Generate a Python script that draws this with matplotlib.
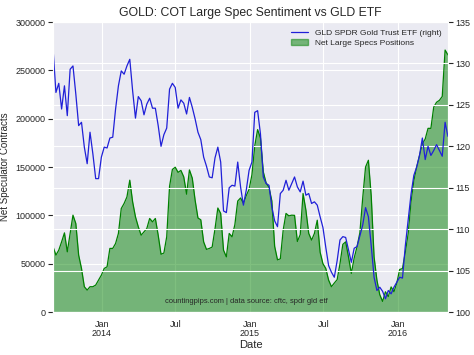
import pandas as pd
import matplotlib
matplotlib.use("Agg")
import matplotlib.pyplot as plt
import matplotlib.patches as mpatches
import seaborn as sns

# weekly COT report dates (Tuesdays)
dates = pd.date_range("2013-09-03", periods=140, freq="7D")

# GLD SPDR Gold Trust ETF price (right axis)
gld = [131.7, 126.5, 127.6, 124.5, 127.3, 123.7, 129.3, 129.7, 126.3, 122.5,
       122.9, 119.9, 117.9, 121.7, 119.1, 116.1, 116.1, 118.7, 119.9, 119.8,
       121.0, 121.1, 124.5, 127.3, 129.1, 128.7, 129.7, 130.5, 126.7, 123.4,
       126.0, 125.5, 123.8, 125.1, 125.8, 124.6, 124.6, 122.5, 120.0, 121.4,
       122.2, 126.9, 127.6, 127.1, 124.6, 125.6, 125.2, 123.9, 125.9, 124.7,
       123.3, 121.7, 120.8, 118.7, 117.6, 116.3, 116.2, 118.6, 119.9, 118.1,
       112.2, 112.0, 115.0, 115.3, 115.2, 118.1, 115.1, 112.9, 114.7, 117.1,
       118.1, 124.1, 124.3, 121.5, 116.3, 115.5, 115.3, 112.7, 111.0, 110.3,
       114.3, 114.7, 115.9, 114.7, 115.5, 116.3, 115.1, 114.5, 115.8, 114.1,
       114.3, 113.1, 113.3, 112.9, 111.5, 110.2, 107.8, 105.6, 104.8, 104.2,
       106.2, 108.7, 109.1, 109.0, 107.5, 106.0, 107.7, 107.9, 109.2, 110.5,
       112.6, 111.5, 108.0, 104.2, 102.6, 103.0, 102.5, 101.6, 102.6, 102.2,
       103.0, 103.6, 104.2, 104.1, 108.0, 111.1, 114.2, 116.5, 117.5, 118.9,
       121.0, 118.4, 120.0, 118.9, 119.5, 120.2, 119.5, 118.8, 122.9, 121.2]

# net large speculator positions (left axis)
net_specs = [67500, 58900, 64000, 72600, 81900, 62300, 81300, 100200, 91600, 58900,
             45100, 26200, 22700, 26200, 26200, 27900, 33000, 38200, 45100, 46800,
             65800, 65800, 70900, 81300, 107100, 112300, 119100, 136400, 114000, 98500,
             88100, 79500, 83000, 86400, 96800, 93300, 96800, 79500, 59800, 61000,
             77800, 130000, 147500, 149800, 144500, 146500, 139800, 121900, 147000, 138500,
             115700, 97300, 95400, 72600, 64800, 65800, 67200, 86000, 107600, 102000,
             64000, 57100, 81300, 77800, 90500, 114800, 118000, 112600, 120400, 127000,
             142000, 172000, 188700, 180000, 145000, 133500, 129000, 115000, 68000, 54000,
             55000, 84700, 102000, 99500, 100200, 100000, 73000, 80000, 122600, 105400,
             81300, 74400, 81300, 95000, 62000, 50000, 45100, 33000, 26200, 30000,
             33500, 50000, 70000, 72600, 57000, 40000, 56000, 67500, 82000, 118000,
             150000, 157000, 120000, 57000, 33000, 18000, 11000, 21000, 16000, 26000,
             21000, 30000, 44000, 45000, 62000, 81000, 114000, 136000, 150000, 162000,
             174000, 179000, 190000, 190000, 212000, 217000, 219000, 223000, 271000, 266000]

tick_dates = pd.to_datetime(["2014-01-01", "2014-07-01", "2015-01-01", "2015-07-01", "2016-01-01"])
tick_labels = ["Jan\n2014", "Jul", "Jan\n2015", "Jul", "Jan\n2016"]

sns.set_style("darkgrid")
plt.rcParams["font.family"] = ["Liberation Sans", "DejaVu Sans"]

fig = plt.figure(figsize=(4.74, 3.55), dpi=100)
ax = fig.add_axes([0.112, 0.121, 0.833, 0.817])

ax.fill_between(dates, net_specs, 0, color="g", alpha=0.5, linewidth=0)
ax.plot(dates, net_specs, color="g", linewidth=0.9)
ax.set_ylim(0, 300000)
ax.set_xlim(dates[0], dates[-1])
ax.set_yticks(range(0, 300001, 50000))
ax.tick_params(labelsize=6.5, pad=2)
ax.set_xticks(tick_dates)
ax.set_xticklabels(tick_labels, linespacing=1.1)
ax.set_ylabel("Net Speculator Contracts", fontsize=7, labelpad=4)
ax.set_xlabel("Date", fontsize=8, labelpad=1)
ax.set_title("GOLD: COT Large Spec Sentiment vs GLD ETF", fontsize=8.8, pad=4)

ax2 = ax.twinx()
ax2.plot(dates, gld, color="#2020d8", linewidth=0.9)
ax2.set_ylim(100, 135)
ax2.set_yticks(range(100, 136, 5))
ax2.tick_params(labelsize=6.5, pad=2)
ax2.xaxis.grid(False)
ax2.set_xlim(dates[0], dates[-1])

h1 = plt.Line2D([], [], color="#2020d8", linewidth=0.9)
h2 = mpatches.Patch(color="g", alpha=0.5)
ax2.legend([h1, h2], ["GLD SPDR Gold Trust ETF (right)", "Net Large Specs Positions"],
           loc="upper right", fontsize=6.0, frameon=False, handlelength=2.0,
           labelspacing=0.35, borderaxespad=0.4)

ax.text(0.49, 0.025, "countingpips.com | data source: cftc, spdr gld etf",
        transform=ax.transAxes, ha="center", va="bottom", fontsize=5.4, zorder=5)

fig.savefig("out.png", dpi=100)
